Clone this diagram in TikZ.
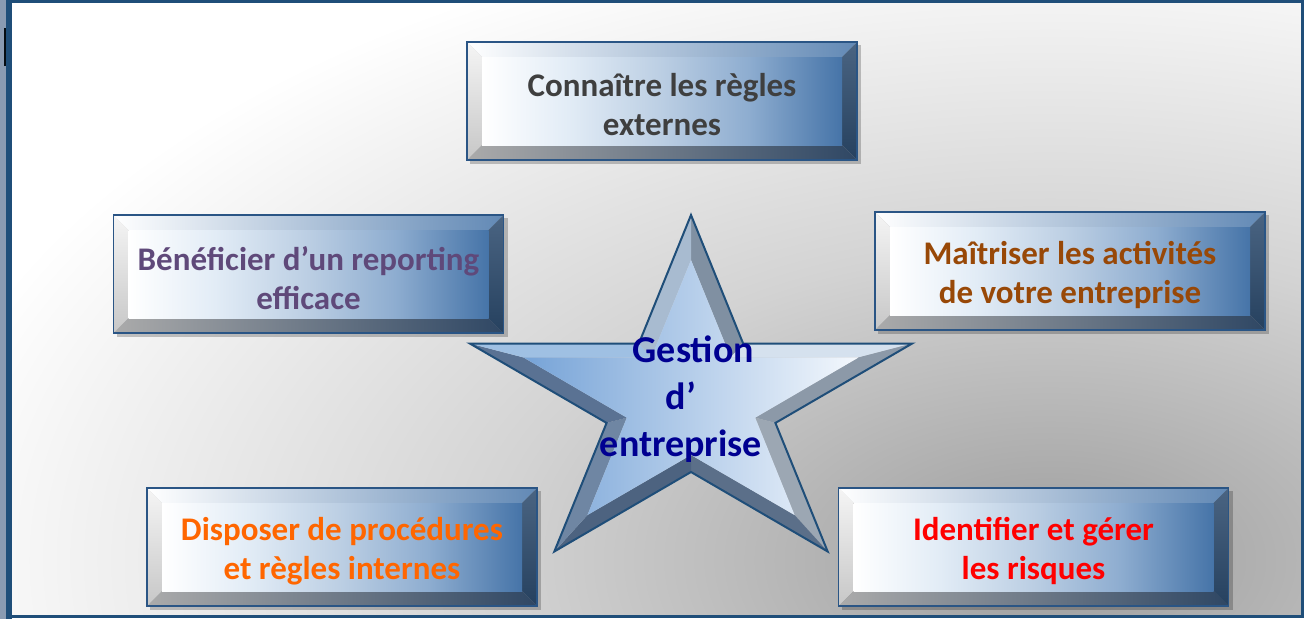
\documentclass[tikz,border=0pt]{standalone}
\usepackage{fontspec}
\setmainfont{Carlito}
\usetikzlibrary{
  calc,         % Calculations $...$
}
% colours
\definecolor{frameBlue}{HTML}{1F4E79}
\definecolor{frameSide}{HTML}{8A9BB2}
\definecolor{bgDark}{HTML}{9C9C9C}
\definecolor{bgMid}{HTML}{D3D3D3}
\definecolor{faceA}{HTML}{E2ECF6}
\definecolor{faceB}{HTML}{BBCEE3}
\definecolor{faceC}{HTML}{8EADD0}
\definecolor{faceD}{HTML}{4674A8}
\definecolor{boxBorder}{HTML}{2A5585}
\definecolor{starL}{HTML}{76A3D7}
\definecolor{starR}{HTML}{F4F8FD}
\definecolor{txtGray}{HTML}{3F3F3F}
\definecolor{txtPurple}{HTML}{5F497A}
\definecolor{txtBrown}{HTML}{984807}
\definecolor{txtOrange}{HTML}{FF6600}
\definecolor{txtRed}{HTML}{FF0000}
\definecolor{txtNavy}{HTML}{000091}
\pgfdeclareradialshading{bgglow}{\pgfpoint{0bp}{0bp}}{%
  color(0bp)=(bgDark); color(12bp)=(bgMid); color(25bp)=(white); color(50bp)=(white)}
\pgfdeclarehorizontalshading{boxface}{100bp}{%
  color(0bp)=(white); color(25bp)=(white); color(37bp)=(faceA); color(50bp)=(faceB);
  color(62bp)=(faceC); color(75bp)=(faceD); color(100bp)=(faceD)}
% beveled box: name, centre, text colour, text
\newcommand{\bevelbox}[4]{%
  \coordinate (#1-c) at #2;
  \coordinate (#1-onw) at ($(#1-c)+(-195,-59)$);
  \coordinate (#1-one) at ($(#1-c)+(195,-59)$);
  \coordinate (#1-ose) at ($(#1-c)+(195,59)$);
  \coordinate (#1-osw) at ($(#1-c)+(-195,59)$);
  \coordinate (#1-fnw) at ($(#1-c)+(-180,-44)$);
  \coordinate (#1-fne) at ($(#1-c)+(180,-44)$);
  \coordinate (#1-fse) at ($(#1-c)+(180,44)$);
  \coordinate (#1-fsw) at ($(#1-c)+(-180,44)$);
  \fill[box shadow] ($(#1-onw)+(3,3)$) rectangle ($(#1-ose)+(4,4)$);
  \shade[left color=white,right color=faceD!85!white]
    (#1-onw) -- (#1-one) -- (#1-fne) -- (#1-fnw) -- cycle;
  \shade[top color=black!4,bottom color=black!22]
    (#1-onw) -- (#1-fnw) -- (#1-fsw) -- (#1-osw) -- cycle;
  \shade[top color={rgb,255:red,74;green,100;blue,130},bottom color={rgb,255:red,38;green,65;blue,95}]
    (#1-one) -- (#1-ose) -- (#1-fse) -- (#1-fne) -- cycle;
  \shade[left color=black!33,right color={rgb,255:red,47;green,71;blue,100}]
    (#1-osw) -- (#1-fsw) -- (#1-fse) -- (#1-ose) -- cycle;
  \shade[shading=boxface] (#1-fnw) rectangle (#1-fse);
  \node[box text,text=#3] (#1) at ($(#1-c)+(0,4)$) {#4};
  \draw[box line] (#1-onw) rectangle (#1-ose);
}
\tikzset{
  box shadow/.style={
    black,
    opacity=0.22
  },
  box line/.style={
    draw=boxBorder,
    line width=1.6pt
  },
  box text/.style={
    inner sep=0pt,
    align=center,
    font=\fontsize{33}{39}\selectfont\bfseries
  },
  star text/.style={
    align=center,
    text=txtNavy,
    font=\fontsize{38}{47}\selectfont\bfseries
  },
  star line/.style={
    draw=frameBlue,
    line width=2pt,
    line join=miter
  }
}

\begin{document}
\begin{tikzpicture}[x=1pt,y=-1pt]
\useasboundingbox (0,0) rectangle (1304,619);
% background and frame
\begin{scope}
  \clip (10,2) rectangle (1302,616);
  \shade[shading=bgglow] (1050,560) ellipse (1150 and 650);
\end{scope}
\fill[frameSide] (0,0) rectangle (6,619);
\fill[black!85!frameBlue] (4,28) rectangle (7,66);
\fill[frameBlue] (6,0) rectangle (12,619);
\draw[frameBlue,line width=3pt] (10,1.5) rectangle (1302,616.5);

% boxes
\bevelbox{regles}{(662,101)}{txtGray}{Connaître les règles\\externes}
\bevelbox{reporting}{(308.5,274)}{txtPurple}{Bénéficier d’un reporting\\efficace}
\bevelbox{activites}{(1070,271)}{txtBrown}{Maîtriser les activités\\de votre entreprise}
\bevelbox{procedures}{(342,547)}{txtOrange}{Disposer de procédures\\et règles internes}
\bevelbox{risques}{(1033.5,547)}{txtRed}{Identifier et gérer\\les risques}

% star
\begin{scope}[shift={(691,401)},xscale=1.25]
  \foreach \i in {0,...,9} {
    \pgfmathtruncatemacro\odd{mod(\i,2)}
    \ifnum\odd=0 \def\ro{186}\def\ri{141}\else \def\ro{71}\def\ri{54}\fi
    \coordinate (so\i) at (270+36*\i:\ro);
    \coordinate (si\i) at (270+36*\i:\ri);
  }
\end{scope}
\foreach \i/\j/\c in {
  0/1/{rgb,255:red,128;green,144;blue,162},
  1/2/{rgb,255:red,213;green,225;blue,238},
  2/3/{rgb,255:red,140;green,153;blue,168},
  3/4/{rgb,255:red,156;green,167;blue,179},
  4/5/{rgb,255:red,91;green,111;blue,137},
  5/6/{rgb,255:red,77;green,99;blue,128},
  6/7/{rgb,255:red,111;green,134;blue,163},
  7/8/{rgb,255:red,90;green,114;blue,147},
  8/9/{rgb,255:red,159;green,192;blue,227},
  9/0/{rgb,255:red,168;green,187;blue,208}}
  \fill[fill=\c] (so\i) -- (so\j) -- (si\j) -- (si\i) -- cycle;
\shade[left color=starL,right color=starR]
  (si0) \foreach \k in {1,...,9} { -- (si\k) } -- cycle;
\draw[star line] (so0) \foreach \k in {1,...,9} { -- (so\k) } -- cycle;
\node[star text] (gestion) at (681,399) {\hspace*{0.65em}Gestion\\d’\hspace*{0.3em}\\entreprise};
\end{tikzpicture}
\end{document}
